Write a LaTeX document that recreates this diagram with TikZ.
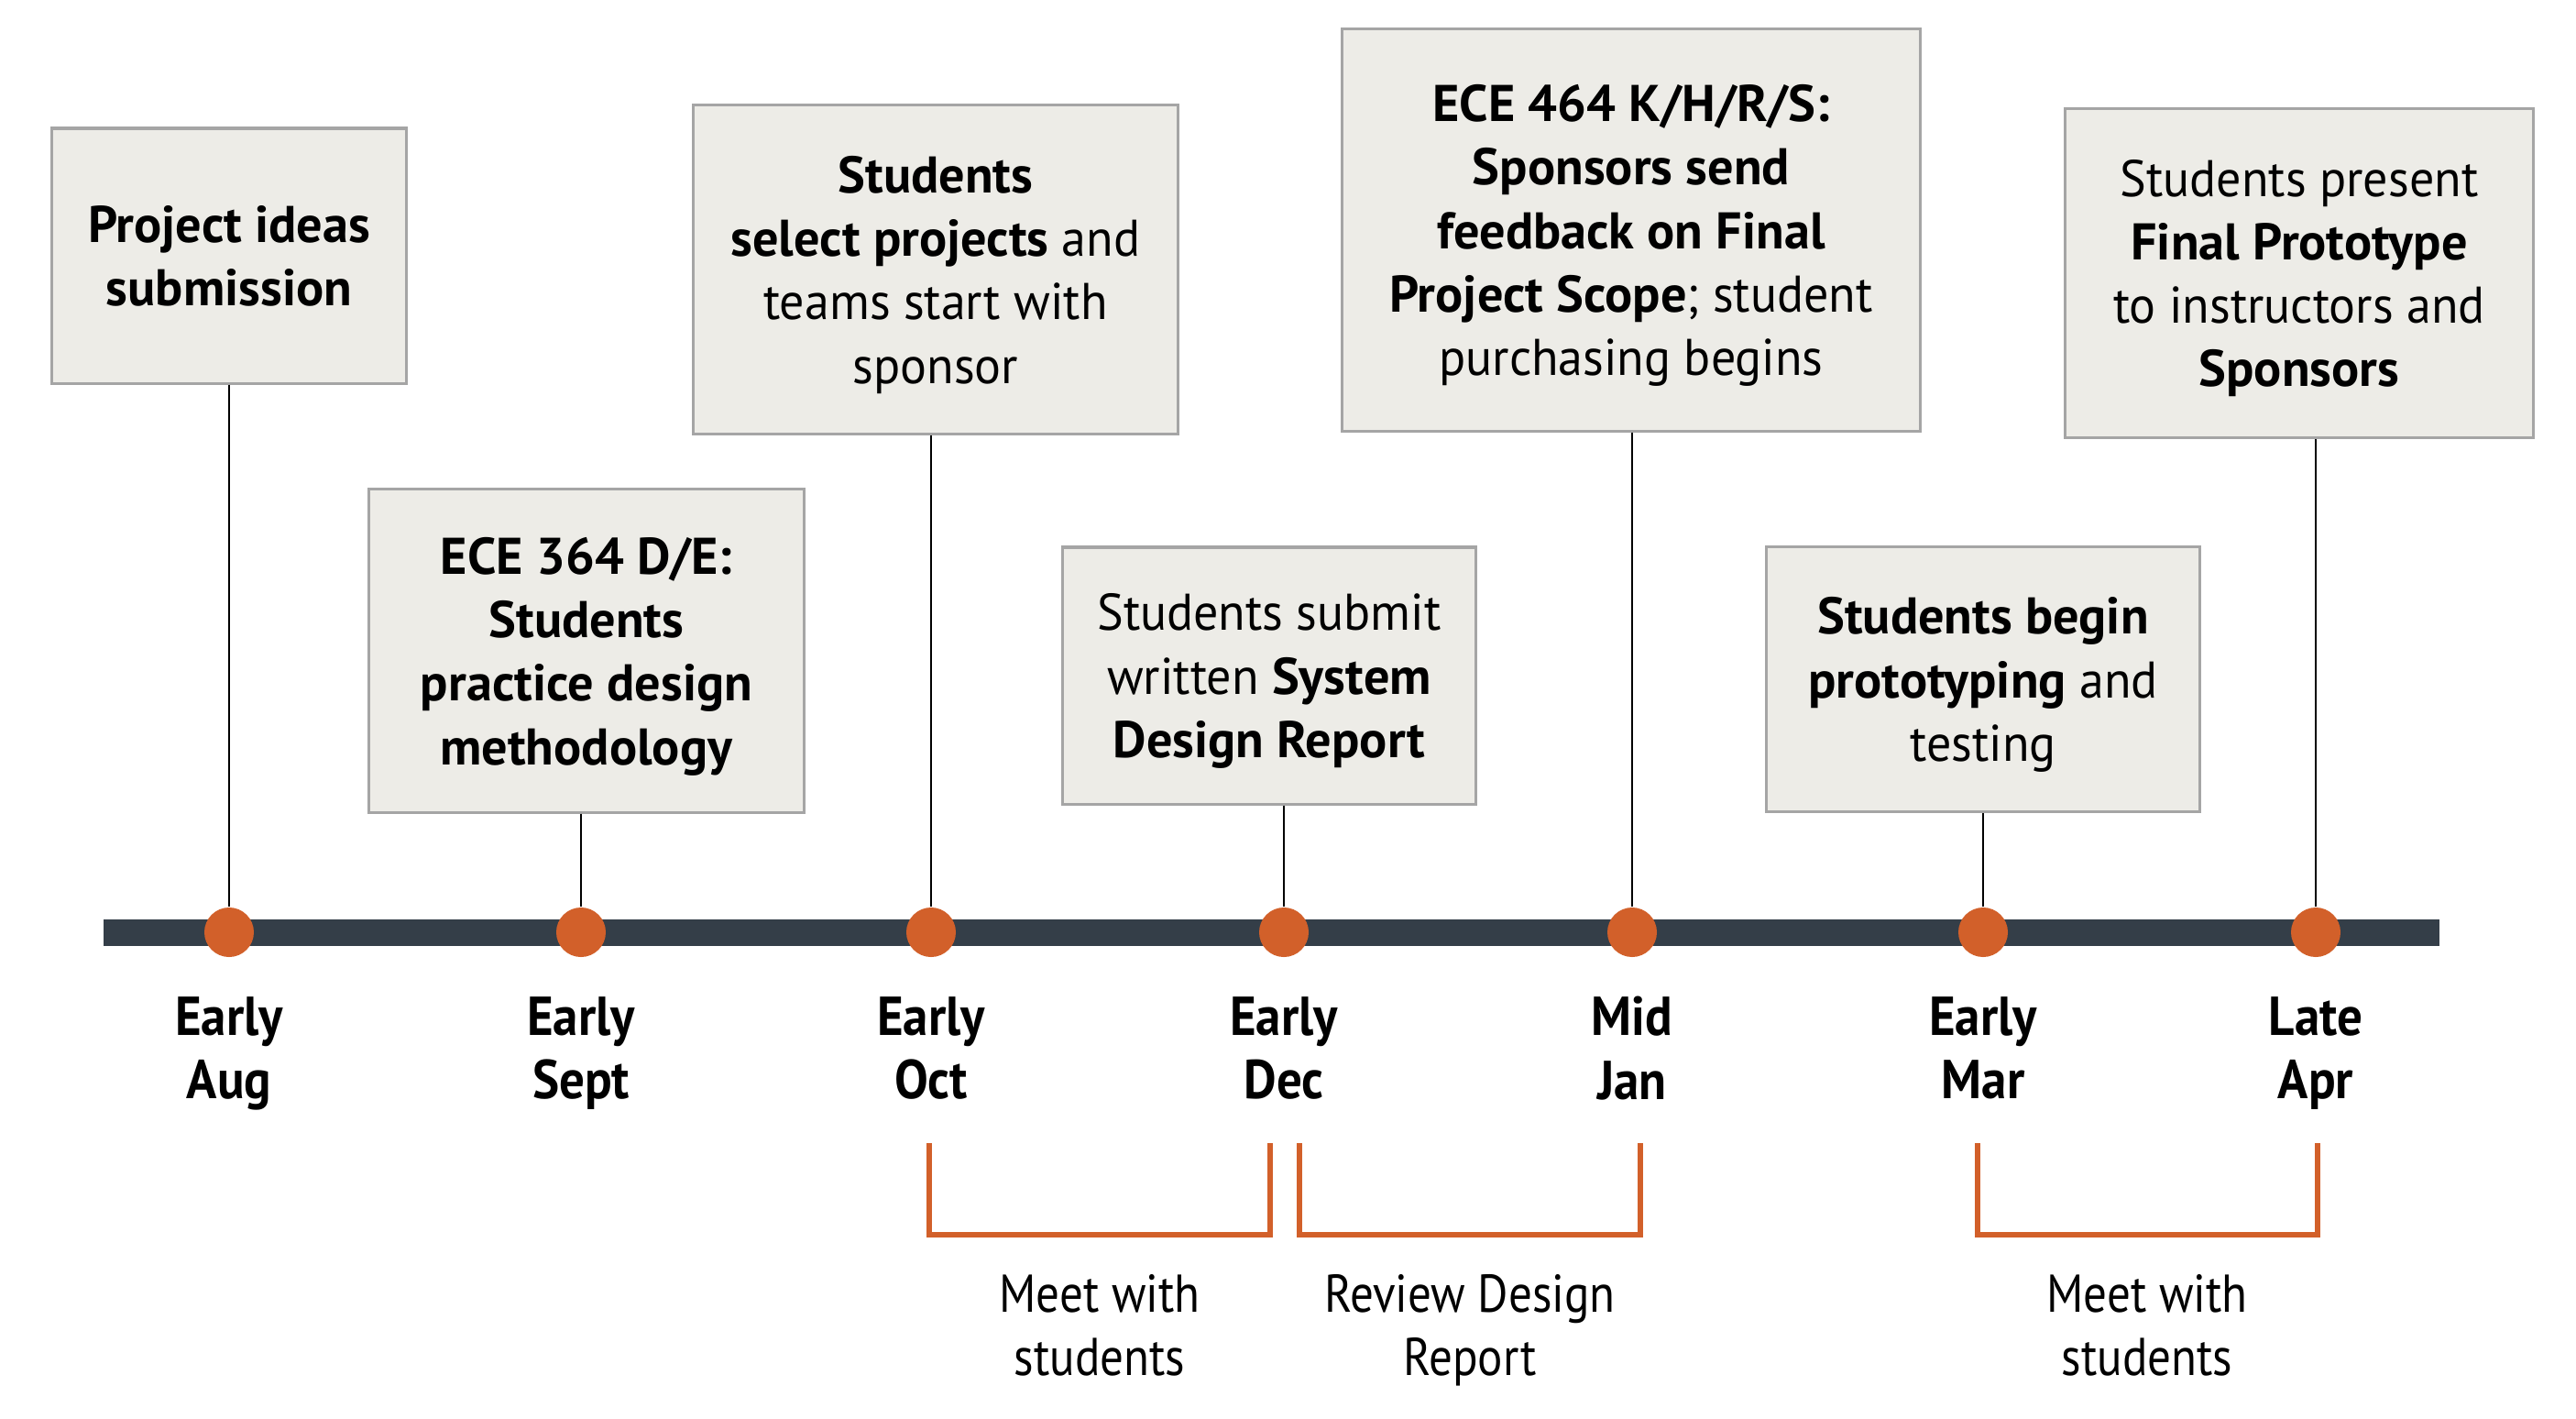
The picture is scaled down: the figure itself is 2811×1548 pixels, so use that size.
\documentclass[tikz,border=0pt]{standalone}
\usepackage{fontspec}
\setmainfont{PT Sans}[UprightFeatures={FakeStretch=0.96}]
\newfontfamily\etroite{PT Sans}[FakeStretch=0.92]
\newfontfamily\leger{PT Sans}[FakeStretch=0.88]
\usetikzlibrary{positioning,calc}

\definecolor{barre}{HTML}{343E48}
\definecolor{rouille}{HTML}{D2602A}
\definecolor{fond}{HTML}{EDECE7}
\definecolor{bord}{HTML}{A5A5A5}

\begin{document}
\begin{tikzpicture}[
      x=0.01cm, y=-0.01cm,
      boite/.style={
        draw=bord,
        fill=fond,
        line width=0.9pt,
        align=center,
        inner sep=0pt,
        text depth=0pt,
        font=\fontsize{16}{19.7}\selectfont
      },
      point/.style={
        circle,
        fill=rouille,
        minimum size=0.54cm,
        inner sep=0pt
      },
      mois/.style={
        align=center,
        inner sep=0pt,
        font=\etroite\bfseries\fontsize{17}{19.8}\selectfont
      },
      tige/.style={
        line width=0.7pt
      },
      accolade/.style={
        draw=rouille,
        line width=1.7pt
      },
      periode/.style={
        align=center,
        inner sep=0pt,
        font=\leger\fontsize{16.5}{19.6}\selectfont
      }
    ]
    \useasboundingbox (0,0) rectangle (2811,1548);

    % la ligne du temps
    \coordinate (debut) at (113,1017) ;
    \coordinate (fin) at (2662,1017) ;
    \draw[barre, line width=0.29cm] (debut) -- (fin) ;

    \node[boite, minimum width=3.86cm, minimum height=2.78cm] (b1) at (250,279)
      {\textbf{Project ideas}\\\textbf{submission}} ;
    \node[boite, minimum width=4.75cm, minimum height=3.52cm] (b2) at (640,710)
      {\textbf{ECE 364 D/E:}\\\textbf{Students}\\\textbf{practice design}\\\textbf{methodology}} ;
    \node[boite, minimum width=5.28cm, minimum height=3.58cm] (b3) at (1021,294)
      {\textbf{Students}\\\textbf{select projects} and\\teams start with\\sponsor} ;
    \node[boite, minimum width=4.50cm, minimum height=2.80cm] (b4) at (1385,737)
      {Students submit\\written \textbf{System}\\\textbf{Design Report}} ;
    \node[boite, minimum width=6.31cm, minimum height=4.38cm] (b5) at (1780,251)
      {\textbf{ECE 464 K/H/R/S:}\\\textbf{Sponsors send}\\\textbf{feedback on Final}\\\textbf{Project Scope}; student\\purchasing begins} ;
    \node[boite, minimum width=4.73cm, minimum height=2.89cm] (b6) at (2164,741)
      {\textbf{Students begin}\\\textbf{prototyping} and\\testing} ;
    \node[boite, minimum width=5.10cm, minimum height=3.59cm] (b7) at (2509,298)
      {Students present\\\textbf{Final Prototype}\\to instructors and\\\textbf{Sponsors}} ;

    \node[point] (1) at (250,1017) {} ;
    \node[point] (2) at (634,1017) {} ;
    \node[point] (3) at (1016,1017) {} ;
    \node[point] (4) at (1401,1017) {} ;
    \node[point] (5) at (1781,1017) {} ;
    \node[point] (6) at (2164,1017) {} ;
    \node[point] (7) at (2527,1017) {} ;

    \draw[tige] (b1.south -| 1) -- (1.north) ;
    \draw[tige] (b2.south -| 2) -- (2.north) ;
    \draw[tige] (b3.south -| 3) -- (3.north) ;
    \draw[tige] (b4.south -| 4) -- (4.north) ;
    \draw[tige] (b5.south -| 5) -- (5.north) ;
    \draw[tige] (b6.south -| 6) -- (6.north) ;
    \draw[tige] (b7.south -| 7) -- (7.north) ;

    \node[mois, below=0.42cm of 1] {Early\\Aug} ;
    \node[mois, below=0.42cm of 2] {Early\\Sept} ;
    \node[mois, below=0.42cm of 3] {Early\\Oct} ;
    \node[mois, below=0.42cm of 4] {Early\\Dec} ;
    \node[mois, below=0.42cm of 5] {Mid\\Jan} ;
    \node[mois, below=0.42cm of 6] {Early\\Mar} ;
    \node[mois, below=0.42cm of 7] {Late\\Apr} ;

    % les periodes
    \coordinate (p1) at (1014,1247) ;
    \coordinate (q1) at (1386,1247) ;
    \coordinate (p2) at (1418,1247) ;
    \coordinate (q2) at (1790,1247) ;
    \coordinate (p3) at (2158,1247) ;
    \coordinate (q3) at (2529,1247) ;
    \draw[accolade] (p1) -- ++(0,100) -| (q1) ;
    \draw[accolade] (p2) -- ++(0,100) -| (q2) ;
    \draw[accolade] (p3) -- ++(0,100) -| (q3) ;

    \coordinate (m1) at (1200,1350) ;
    \coordinate (m2) at (1604,1350) ;
    \coordinate (m3) at (2343,1350) ;
    \node[periode, below=0.4cm of m1] {Meet with\\students} ;
    \node[periode, below=0.4cm of m2] {Review Design\\Report} ;
    \node[periode, below=0.4cm of m3] {Meet with\\students} ;
  \end{tikzpicture}
\end{document}
